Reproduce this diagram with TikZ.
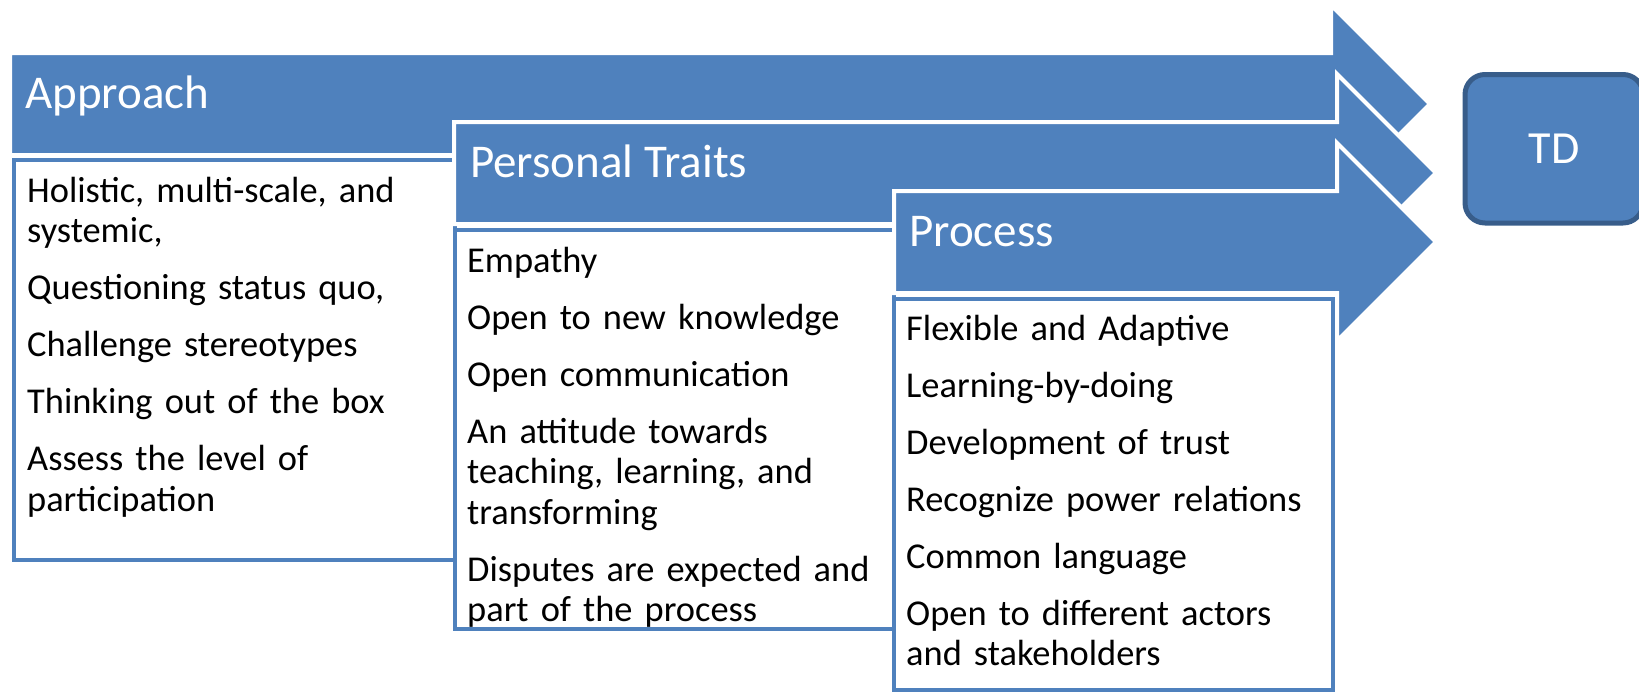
\documentclass[tikz,border=0pt]{standalone}
\usepackage{fontspec}
\setmainfont{Carlito}
\definecolor{blockblue}{HTML}{4F81BD}
\definecolor{tdedge}{HTML}{385D8A}
\tikzset{
  block/.style={fill=blockblue,draw=white,line width=4pt},
  heading/.style={anchor=base west,inner sep=0pt,text=white,font=\fontsize{47}{56}\selectfont},
  itembox/.style={fill=white,draw=blockblue,line width=4pt},
  itemtext/.style={anchor=base west,inner sep=0pt,text width=425pt,align=left,font=\fontsize{36.4}{40.6}\selectfont},
  goalbox/.style={fill=blockblue,draw=tdedge,line width=5pt,rounded corners=20pt,text=white,font=\fontsize{46}{55}\selectfont}
}

\begin{document}
\begin{tikzpicture}[x=1pt,y=-1pt]
  \clip (0,0) rectangle (1639,691);
  % approach
  \draw[block] (10,53) -- (1331,53) -- (1331,5) -- (1430,104) -- (1331,203) -- (1331,155) -- (10,155) -- cycle;
  \node[heading] (approach) at (25,108) {Approach};
  \draw[itembox] (14,159.5) rectangle (455,559.5);
  \node[itemtext] (approachlist) at (27,202) {Holistic, multi-scale, and\\ systemic,\\[16.4pt]
    Questioning status quo,\\[16.4pt] Challenge stereotypes\\[16.4pt] Thinking out of the box\\[16.4pt]
    Assess the level of\\ participation};
  % personal traits
  \draw[block] (454,122) -- (1337,122) -- (1337,74) -- (1436,173) -- (1337,272) -- (1337,224) -- (454,224) -- cycle;
  \node[heading] (traits) at (470,177) {Personal Traits};
  \draw[itembox] (455,229.5) rectangle (894,628.7);
  \node[itemtext] (traitslist) at (467,272) {Empathy\\[16.4pt] Open to new knowledge\\[16.4pt]
    Open communication\\[16.4pt] An attitude towards\\ teaching, learning, and\\ transforming\\[16.4pt]
    Disputes are expected and\\ part of the process};
  % process
  \draw[block] (894,191) -- (1337,191) -- (1337,143) -- (1436,242) -- (1337,341) -- (1337,293) -- (894,293) -- cycle;
  \node[heading] (process) at (909,246) {Process};
  \draw[itembox] (894,299) rectangle (1332.5,690);
  \node[itemtext] (processlist) at (906,340) {Flexible and Adaptive\\[16.4pt] Learning-by-doing\\[16.4pt]
    Development of trust\\[16.4pt] Recognize power relations\\[16.4pt] Common language\\[16.4pt]
    Open to different actors\\ and stakeholders};
  % goal
  \node[goalbox,minimum width=178pt,minimum height=148.5pt] (td) at (1554,148.75) {TD};
\end{tikzpicture}
\end{document}
